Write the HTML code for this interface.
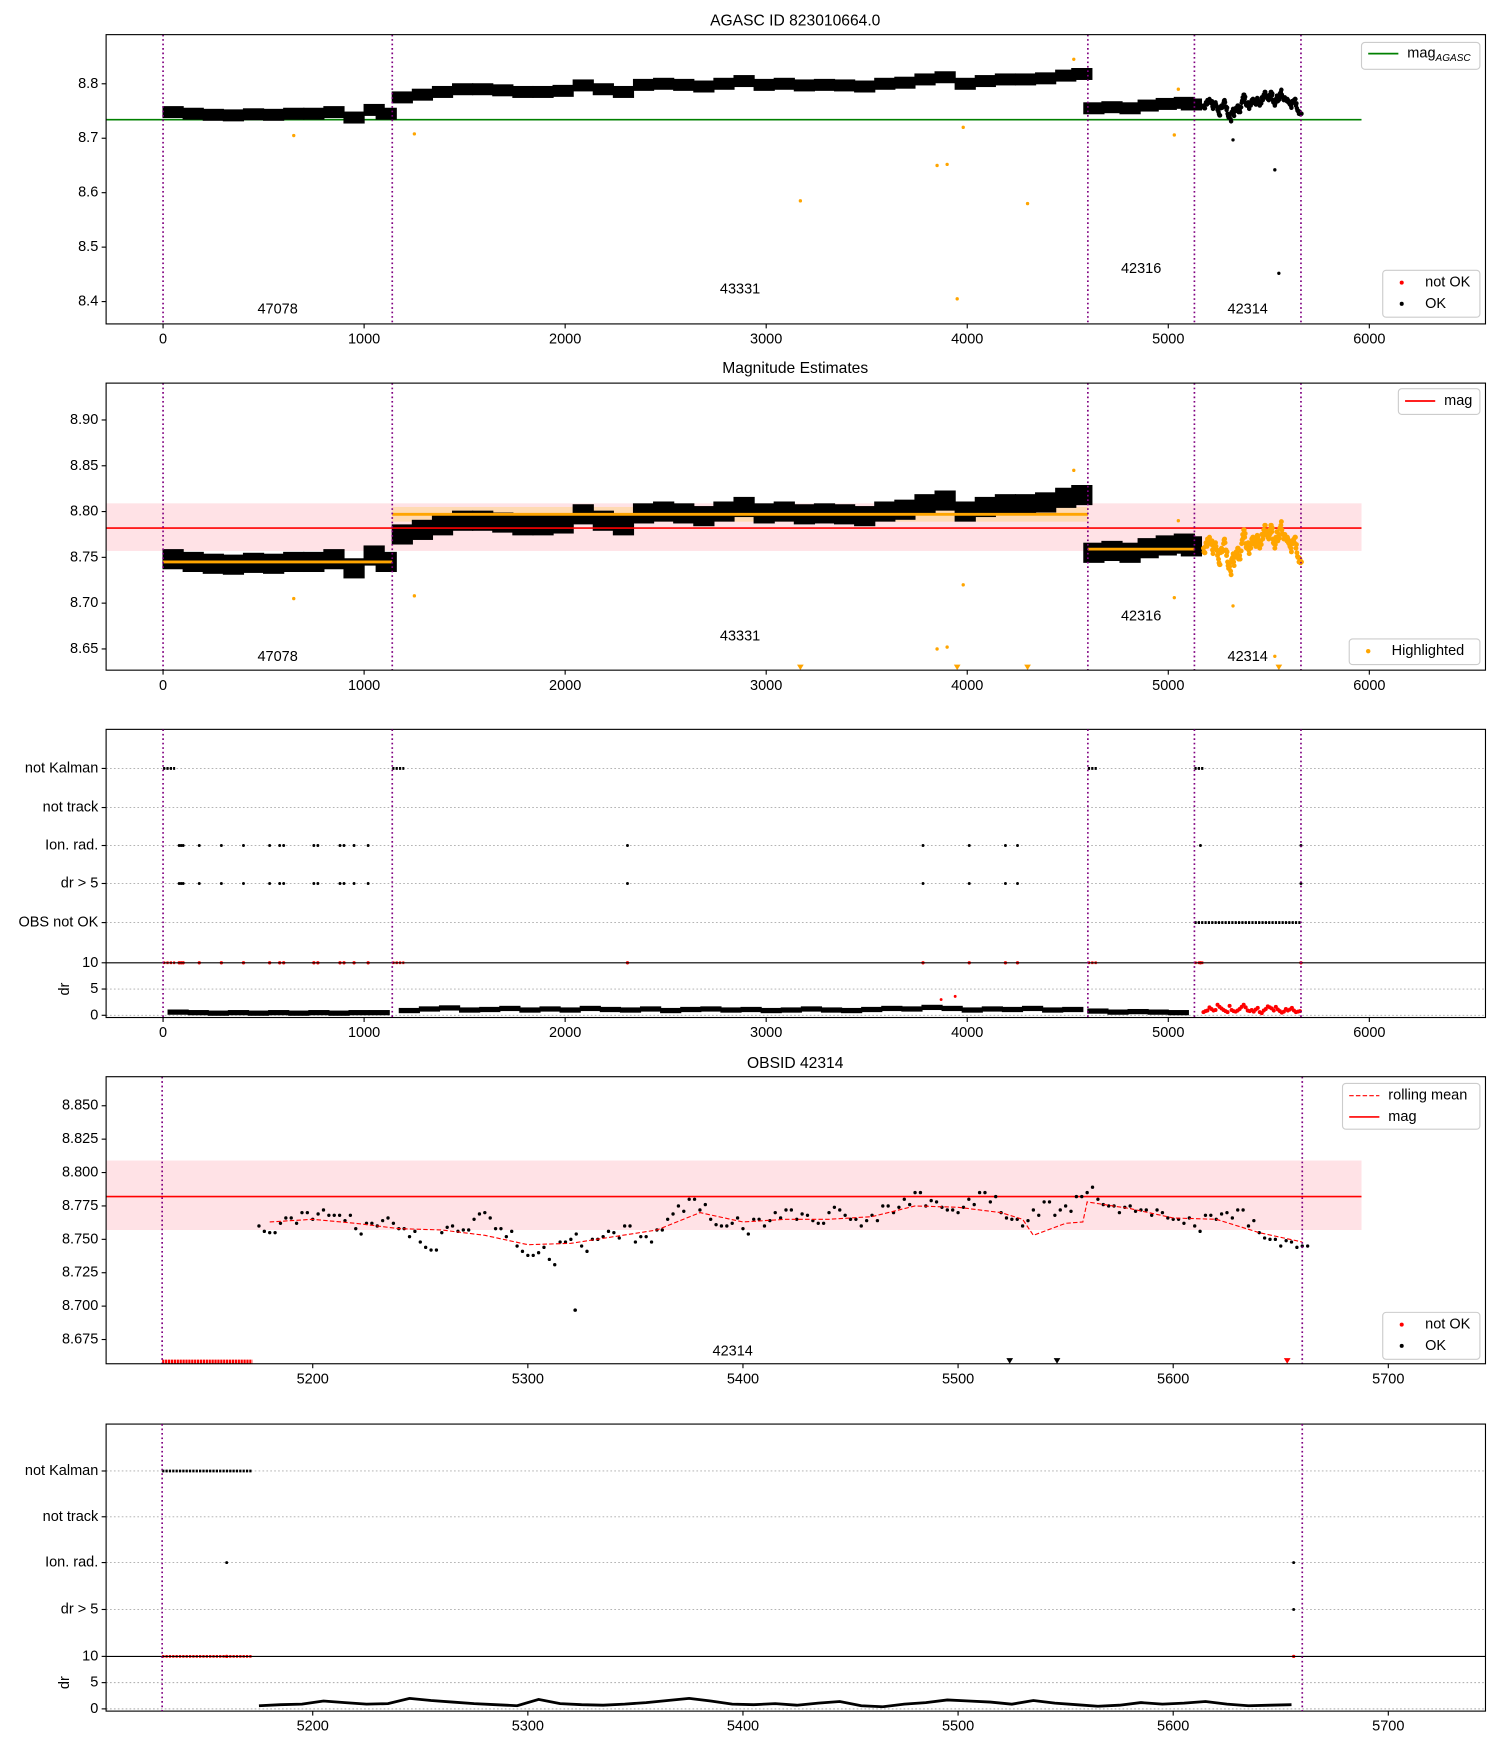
<!DOCTYPE html>
<html><head><meta charset="utf-8">
<style>
html,body{margin:0;padding:0;background:#fff;}
svg{display:block;font-family:"Liberation Sans","DejaVu Sans",sans-serif;}
</style></head>
<body>
<svg id="chart" xmlns="http://www.w3.org/2000/svg" width="1500" height="1750" viewBox="0 0 1343 1566.8">
<rect x="0" y="0" width="1343" height="1567" fill="#fff"/>
<g id="layer"></g>
</svg>
<script>
// ---------- data ----------
const segBounds = [0, 1140, 4600, 5130, 5660];
const obsLabels = ["47078", "43331", "42316", "42314"];
const agascMag = 8.734;
const magMean = 8.782, magLo = 8.757, magHi = 8.809;
const seg1T = [50,150,250,350,450,550,650,750,850,950,1050,1110];
const seg1M = [8.748,8.745,8.743,8.742,8.744,8.743,8.745,8.745,8.748,8.738,8.752,8.745];
const seg2T = [1190,1290,1390,1490,1590,1690,1790,1890,1990,2090,2190,2290,2390,2490,2590,2690,2790,2890,2990,3090,3190,3290,3390,3490,3590,3690,3790,3890,3990,4090,4190,4290,4390,4490,4570];
const seg2M = [8.775,8.78,8.785,8.79,8.79,8.788,8.785,8.785,8.787,8.797,8.79,8.785,8.798,8.80,8.798,8.795,8.80,8.805,8.798,8.80,8.797,8.798,8.797,8.795,8.80,8.802,8.808,8.812,8.80,8.805,8.808,8.808,8.81,8.815,8.818];
const seg3T = [4630,4720,4810,4900,4990,5080,5115];
const seg3M = [8.755,8.757,8.755,8.76,8.763,8.765,8.762];
const segMeans = [8.745, 8.797, 8.759];
const outT = [650,1250,3170,3850,3900,3950,3980,4300,5030,5050,4530];
const outM = [8.705,8.708,8.585,8.65,8.652,8.405,8.72,8.58,8.706,8.79,8.845];
const blackOutT = [5322,5530,5550];
const blackOutM = [8.697,8.642,8.452];
const obsT0 = 5175, obsDT = 5;
const obsM = [8.760,8.755,8.762,8.766,8.770,8.765,8.772,8.768,8.764,8.758,
8.762,8.760,8.766,8.758,8.752,8.748,8.742,8.755,8.760,8.757,
8.765,8.770,8.758,8.752,8.745,8.738,8.740,8.735,8.748,8.750,
8.745,8.750,8.752,8.755,8.760,8.748,8.752,8.757,8.765,8.775,
8.780,8.772,8.765,8.760,8.762,8.758,8.765,8.760,8.770,8.772,
8.765,8.768,8.762,8.770,8.772,8.765,8.760,8.768,8.775,8.770,
8.780,8.785,8.775,8.778,8.772,8.770,8.780,8.785,8.778,8.770,
8.765,8.760,8.772,8.778,8.768,8.775,8.782,8.785,8.780,8.775,
8.770,8.775,8.772,8.768,8.770,8.765,8.762,8.760,8.768,8.765,
8.770,8.772,8.760,8.755,8.750,8.745,8.748,8.745];
const rollT = [5180,5200,5220,5240,5260,5280,5300,5320,5340,5360,5380,5400,5420,5440,5460,5480,5500,5520,5530,5535,5550,5558,5560,5580,5600,5620,5640,5660];
const rollM = [8.763,8.765,8.762,8.758,8.757,8.753,8.746,8.747,8.752,8.757,8.770,8.763,8.765,8.765,8.767,8.775,8.774,8.77,8.765,8.753,8.762,8.763,8.778,8.773,8.766,8.765,8.755,8.748];
const kalmanRanges = [[0,60],[1140,1200],[4600,4650],[5130,5180]];
const ionT = [80,90,100,180,290,400,530,580,600,750,770,880,900,950,1020,2310,3780,4010,4190,4250,5160,5660];
const drBigT = [80,90,100,180,290,400,530,580,600,750,770,880,900,950,1020,2310,3780,4010,4190,4250,5660];
const obsNotOkRange = [5130,5660];
const drT = [75,175,275,375,475,575,675,775,875,975,1075,1225,1325,1425,1525,1625,1725,1825,1925,2025,2125,2225,2325,2425,2525,2625,2725,2825,2925,3025,3125,3225,3325,3425,3525,3625,3725,3825,3925,4025,4125,4225,4325,4425,4525,4650,4750,4850,4950,5050];
const drV = [0.6,0.5,0.4,0.5,0.4,0.5,0.4,0.5,0.4,0.5,0.5,0.9,1.2,1.4,1.0,1.1,1.3,1.0,1.2,1.0,1.3,1.1,1.0,1.2,0.9,1.1,1.2,1.0,1.1,0.9,1.0,1.2,1.0,0.9,1.1,1.3,1.2,1.5,1.3,1.0,1.2,1.1,1.3,1.0,1.1,0.8,0.6,0.7,0.6,0.5];
const drObsT0 = 5175, drObsDT = 10;
const drObs = [0.6,0.8,0.9,1.5,1.2,0.9,1.0,2.0,1.6,1.3,1.0,0.8,0.6,1.8,1.0,0.8,0.7,0.9,1.2,1.6,2.0,1.5,0.9,0.8,1.0,0.7,1.1,1.4,0.6,0.4,0.9,1.2,1.7,1.5,1.3,0.9,1.6,1.1,0.8,0.5,0.7,1.2,0.9,1.1,1.4,0.9,0.6,0.7,0.8];
const tri4T = [5524,5546];
const tri4Red = [5653];
const xTicks1 = [0,1000,2000,3000,4000,5000,6000];
const yTicks1 = [8.4,8.5,8.6,8.7,8.8];
const yTicks2 = [8.65,8.70,8.75,8.80,8.85,8.90];
const xTicks4 = [5200,5300,5400,5500,5600,5700];
const yTicks4 = [8.675,8.700,8.725,8.750,8.775,8.800,8.825,8.850];
const flagRows = ["not Kalman","not track","Ion. rad.","dr > 5","OBS not OK"];
const drTicks = [0,5,10];

// ---------- helpers ----------
const NS = "http://www.w3.org/2000/svg";
const layer = document.getElementById('layer');
function mk(tag, attrs, name, parent) {
  const el = document.createElementNS(NS, tag);
  for (const k in attrs) el.setAttribute(k, attrs[k]);
  
  
  (parent || layer).appendChild(el);
  return el;
}
function txt(x, y, s, name, opt) {
  opt = opt || {};
  const t = mk('text', {x:x, y:y, 'font-size':opt.size||13, 'text-anchor':opt.anchor||'middle', fill:'#000', 'dominant-baseline':'central'}, name);
  if (opt.rot) t.setAttribute('transform', 'rotate(-90 ' + x + ' ' + y + ')');
  t.textContent = s;
  return t;
}
const L = 95, R = 1330;
const xA = v => 146 + v * 0.18;
const xB = v => 280 + (v - 5200) * 1.926;
function frame(top, bot, name) {
  mk('rect', {x:L, y:top, width:R-L, height:bot-top, fill:'none', stroke:'#000', 'stroke-width':1}, name);
}
function xticks(ticks, xf, bot, name, fmt) {
  ticks.forEach(t => {
    const x = xf(t);
    mk('line', {x1:x, y1:bot, x2:x, y2:bot+4, stroke:'#000'}, name + '-tick');
    txt(x, bot + 14, fmt ? fmt(t) : String(t), name + '-label');
  });
}
function yticks(ticks, yf, name, dec) {
  ticks.forEach(t => {
    const y = yf(t);
    mk('line', {x1:L-4, y1:y, x2:L, y2:y, stroke:'#000'}, name + '-tick');
    txt(L - 7, y, t.toFixed(dec), name + '-label', {anchor:'end'});
  });
}
function vlines(xf, top, bot, times, name) {
  times.forEach(t => mk('line', {x1:xf(t), y1:top, x2:xf(t), y2:bot, stroke:'#800080', 'stroke-width':1.5, 'stroke-dasharray':'1.5,2.5'}, name));
}
function dot(x, y, r, c, name) { mk('circle', {cx:x, cy:y, r:r, fill:c}, name); }
function legendBox(x, y, w, h, name) {
  mk('rect', {x:x, y:y, width:w, height:h, fill:'#fff', 'fill-opacity':0.8, stroke:'#ccc', rx:3}, name);
}
function segBands(yf, spread, color, name) {
  [[seg1T, seg1M],[seg2T, seg2M],[seg3T, seg3M]].forEach(([T, M]) => {
    T.forEach((t, i) => {
      const yt = yf(M[i] + spread), yb = yf(M[i] - spread);
      mk('rect', {x:xA(t) - 9.5, y:yt, width:19, height:yb - yt, fill:color}, name);
    });
  });
}
function obsPoints(xf, yf, color, r, name) {
  obsM.forEach((m, i) => dot(xf(obsT0 + i * obsDT), yf(m), r, color, name));
  obsM.forEach((m, i) => dot(xf(obsT0 + 2.5 + i * obsDT), yf(m + ((i % 3) - 1) * 0.004), r, color, name));
}

// ---------- panel 1 ----------
(function(){
  const top = 31, bot = 290;
  const y = v => 75 - (v - 8.8) * 487.5;
  txt(712, 19, "AGASC ID 823010664.0", 'panel1-title', {size:14});
  mk('line', {x1:L, y1:y(agascMag), x2:1219, y2:y(agascMag), stroke:'#008000', 'stroke-width':1.5}, 'agasc-mag-line');
  segBands(y, 0.011, '#000', 'panel1-obs-points');
  obsPoints(xA, v => y(v), '#000', 2, 'panel1-obs-points');
  outT.forEach((t, i) => dot(xA(t), y(outM[i]), 1.5, 'orange', 'panel1-outlier'));
  blackOutT.forEach((t, i) => dot(xA(t), y(blackOutM[i]), 1.5, '#000', 'panel1-outlier'));
  vlines(xA, top, bot, segBounds, 'panel1-obs-boundary');
  const lblY = [277, 259, 241, 277];
  obsLabels.forEach((s, i) => txt(xA((segBounds[i] + segBounds[i+1]) / 2), lblY[i], s, 'panel1-obsid-label'));
  frame(top, bot, 'panel1-axes');
  xticks(xTicks1, xA, bot, 'panel1-xtick');
  yticks(yTicks1, y, 'panel1-ytick', 1);
  legendBox(1219, 38, 106, 24, 'panel1-legend-mag');
  mk('line', {x1:1225, y1:48, x2:1252, y2:48, stroke:'#008000', 'stroke-width':1.5}, 'legend-agasc-line');
  const t = txt(1260, 48, "mag", 'legend-agasc-text', {anchor:'start'});
  const sub = mk('tspan', {'font-size':9, dy:4, 'font-style':'italic'}, 'legend-agasc-sub', t);
  sub.textContent = "AGASC";
  legendBox(1238, 242, 87, 42, 'panel1-legend-ok');
  dot(1255, 253, 1.8, 'red', 'legend-notok-marker'); txt(1276, 253, "not OK", 'legend-notok-text', {anchor:'start'});
  dot(1255, 272, 1.8, '#000', 'legend-ok-marker'); txt(1276, 272, "OK", 'legend-ok-text', {anchor:'start'});
})();

// ---------- panel 2 ----------
(function(){
  const top = 343, bot = 600;
  const y = v => 376 - (v - 8.90) * 820;
  const c = v => Math.max(top + 1, Math.min(bot - 1, y(v)));
  txt(712, 330, "Magnitude Estimates", 'panel2-title', {size:14});
  mk('rect', {x:L, y:y(magHi), width:1219-L, height:y(magLo)-y(magHi), fill:'#ffb6c1', 'fill-opacity':0.4}, 'mag-band');
  mk('rect', {x:xA(1140), y:y(8.805), width:xA(4600)-xA(1140), height:y(8.789)-y(8.805), fill:'#ffd27f', 'fill-opacity':0.5}, 'obs-mean-band');
  segBands(y, 0.011, '#000', 'panel2-obs-points');
  mk('line', {x1:L, y1:y(magMean), x2:1219, y2:y(magMean), stroke:'red', 'stroke-width':1.5}, 'mag-line');
  segMeans.forEach((m, i) => mk('line', {x1:xA(segBounds[i]), y1:y(m), x2:xA(segBounds[i+1]), y2:y(m), stroke:'orange', 'stroke-width':2.5}, 'obs-mean-line'));
  obsPoints(xA, y, 'orange', 2.2, 'panel2-highlighted-points');
  outT.forEach((t, i) => {
    if (outM[i] < 8.63) mk('path', {d:'M'+(xA(t)-3)+','+(bot-5)+' h6 l-3,5 z', fill:'orange'}, 'panel2-offscale-marker');
    else dot(xA(t), y(outM[i]), 1.5, 'orange', 'panel2-outlier');
  });
  blackOutT.forEach((t, i) => {
    if (blackOutM[i] < 8.63) mk('path', {d:'M'+(xA(t)-3)+','+(bot-5)+' h6 l-3,5 z', fill:'orange'}, 'panel2-offscale-marker');
    else dot(xA(t), c(blackOutM[i]), 1.5, 'orange', 'panel2-outlier');
  });
  vlines(xA, top, bot, segBounds, 'panel2-obs-boundary');
  const lblY = [588, 570, 552, 588];
  obsLabels.forEach((s, i) => txt(xA((segBounds[i] + segBounds[i+1]) / 2), lblY[i], s, 'panel2-obsid-label'));
  frame(top, bot, 'panel2-axes');
  xticks(xTicks1, xA, bot, 'panel2-xtick');
  yticks(yTicks2, y, 'panel2-ytick', 2);
  legendBox(1252, 348, 73, 23, 'panel2-legend-mag');
  mk('line', {x1:1258, y1:359, x2:1285, y2:359, stroke:'red', 'stroke-width':1.5}, 'legend-mag-line');
  txt(1293, 359, "mag", 'legend-mag-text', {anchor:'start'});
  legendBox(1208, 572, 117, 23, 'panel2-legend-highlighted');
  dot(1225, 583, 2, 'orange', 'legend-highlighted-marker');
  txt(1246, 583, "Highlighted", 'legend-highlighted-text', {anchor:'start'});
})();

// ---------- flag panels ----------
function flagPanel(xf, top, bot, rowsY, drBot, drY, opts) {
  rowsY.forEach((ry, i) => {
    mk('line', {x1:L, y1:ry, x2:R, y2:ry, stroke:'#aaa', 'stroke-width':0.8, 'stroke-dasharray':'1.5,2'}, 'flag-gridline');
    mk('line', {x1:L-4, y1:ry, x2:L, y2:ry, stroke:'#000'}, 'flag-tick');
    txt(L - 7, ry, flagRows[i], 'flag-row-label', {anchor:'end'});
  });
  [5, 0].forEach(v => mk('line', {x1:L, y1:drY(v), x2:R, y2:drY(v), stroke:'#aaa', 'stroke-width':0.8, 'stroke-dasharray':'1.5,2'}, 'dr-gridline'));
  opts.kalman.forEach(r => {
    mk('line', {x1:xf(r[0]), y1:rowsY[0], x2:xf(r[1]), y2:rowsY[0], stroke:'#000', 'stroke-width':2.5, 'stroke-dasharray':'2,1'}, 'not-kalman-flags');
    mk('line', {x1:xf(r[0]), y1:drY(10), x2:xf(r[1]), y2:drY(10), stroke:'red', 'stroke-width':2.5, 'stroke-dasharray':'2,1'}, 'dr-notok-flags');
  });
  opts.ion.forEach(t => { dot(xf(t), rowsY[2], 1.3, '#000', 'ion-rad-flag'); dot(xf(t), drY(10), 1.5, 'red', 'dr-notok-flag'); });
  opts.drBig.forEach(t => dot(xf(t), rowsY[3], 1.3, '#000', 'dr-gt-5-flag'));
  if (opts.obsNot) mk('line', {x1:xf(opts.obsNot[0]), y1:rowsY[4], x2:xf(opts.obsNot[1]), y2:rowsY[4], stroke:'#000', 'stroke-width':2.5, 'stroke-dasharray':'2,1'}, 'obs-not-ok-flags');
  mk('rect', {x:L, y:top, width:R-L, height:drBot-top, fill:'none', stroke:'#000'}, 'flag-axes');
  mk('line', {x1:L, y1:drY(10), x2:R, y2:drY(10), stroke:'#000'}, 'dr-axes-top');
  drTicks.forEach(v => {
    mk('line', {x1:L-4, y1:drY(v), x2:L, y2:drY(v), stroke:'#000'}, 'dr-tick');
    txt(L - 7, drY(v), String(v), 'dr-tick-label', {anchor:'end'});
  });
  txt(58, drY(5), "dr", 'dr-axis-title', {rot:true});
}

// ---------- panel 3 ----------
(function(){
  const top = 653, bot = 911;
  const rowsY = [688, 723, 757, 791, 826];
  const dY = v => 909 - v * 4.7;
  flagPanel(xA, top, bot, rowsY, bot, dY, {kalman:kalmanRanges, ion:ionT, drBig:drBigT, obsNot:obsNotOkRange});
  drT.forEach((t, i) => mk('rect', {x:xA(t) - 9.5, y:dY(drV[i] + 0.5), width:19, height:dY(drV[i] - 0.5) - dY(drV[i] + 0.5), fill:'#000'}, 'dr-points'));
  drObs.forEach((v, i) => dot(xA(drObsT0 + i * drObsDT), dY(v), 1.8, 'red', 'dr-notok-points'));
  dot(xA(3870), dY(3), 1.3, 'red', 'dr-outlier'); dot(xA(3940), dY(3.6), 1.3, 'red', 'dr-outlier');
  vlines(xA, top, bot, segBounds, 'panel3-obs-boundary');
  xticks(xTicks1, xA, bot, 'panel3-xtick');
})();

// ---------- panel 4 ----------
(function(){
  const top = 964, bot = 1221;
  const y = v => 990 - (v - 8.85) * 1196;
  txt(712, 952, "OBSID 42314", 'panel4-title', {size:14});
  mk('rect', {x:L, y:y(magHi), width:1219-L, height:y(magLo)-y(magHi), fill:'#ffb6c1', 'fill-opacity':0.4}, 'mag-band');
  mk('line', {x1:L, y1:y(magMean), x2:1219, y2:y(magMean), stroke:'red', 'stroke-width':1.5}, 'mag-line');
  obsPoints(xB, y, '#000', 1.5, 'panel4-ok-points');
  dot(xB(5322), y(8.697), 1.6, '#000', 'panel4-outlier');
  mk('polyline', {points: rollT.map((t, i) => xB(t) + ',' + y(rollM[i])).join(' '), fill:'none', stroke:'red', 'stroke-width':1, 'stroke-dasharray':'4,2'}, 'rolling-mean-line');
  mk('line', {x1:xB(5130), y1:bot-2, x2:xB(5172), y2:bot-2, stroke:'red', 'stroke-width':3.5, 'stroke-dasharray':'2,0.6'}, 'panel4-notok-points');
  tri4T.forEach(t => mk('path', {d:'M'+(xB(t)-3)+','+(bot-5)+' h6 l-3,5 z', fill:'#000'}, 'panel4-offscale-marker'));
  tri4Red.forEach(t => mk('path', {d:'M'+(xB(t)-3)+','+(bot-5)+' h6 l-3,5 z', fill:'red'}, 'panel4-offscale-marker'));
  vlines(xB, top, bot, [5130, 5660], 'panel4-obs-boundary');
  txt(656, 1210, "42314", 'panel4-obsid-label');
  frame(top, bot, 'panel4-axes');
  xticks(xTicks4, xB, bot, 'panel4-xtick');
  yticks(yTicks4, y, 'panel4-ytick', 3);
  legendBox(1202, 970, 123, 41, 'panel4-legend');
  mk('line', {x1:1208, y1:981, x2:1235, y2:981, stroke:'red', 'stroke-width':1, 'stroke-dasharray':'4,2'}, 'legend-rolling-line');
  txt(1243, 981, "rolling mean", 'legend-rolling-text', {anchor:'start'});
  mk('line', {x1:1208, y1:1000, x2:1235, y2:1000, stroke:'red', 'stroke-width':1.5}, 'legend-mag-line');
  txt(1243, 1000, "mag", 'legend-mag-text', {anchor:'start'});
  legendBox(1238, 1175, 87, 42, 'panel4-legend-ok');
  dot(1255, 1186, 1.8, 'red', 'legend-notok-marker'); txt(1276, 1186, "not OK", 'legend-notok-text', {anchor:'start'});
  dot(1255, 1205, 1.8, '#000', 'legend-ok-marker'); txt(1276, 1205, "OK", 'legend-ok-text', {anchor:'start'});
})();

// ---------- panel 5 ----------
(function(){
  const top = 1275, bot = 1532;
  const rowsY = [1317, 1358, 1399, 1441];
  const dY = v => 1530 - v * 4.7;
  flagRows.length = 4;
  flagPanel(xB, top, bot, rowsY, bot, dY, {kalman:[[5130,5172]], ion:[5160,5656], drBig:[5656], obsNot:null});
  mk('polyline', {points: drObs.map((v, i) => xB(drObsT0 + i * drObsDT) + ',' + dY(v)).join(' '), fill:'none', stroke:'#000', 'stroke-width':2.5}, 'dr-points');
  vlines(xB, top, bot, [5130, 5660], 'panel5-obs-boundary');
  xticks(xTicks4, xB, bot, 'panel5-xtick');
})();
</script>
</body></html>
